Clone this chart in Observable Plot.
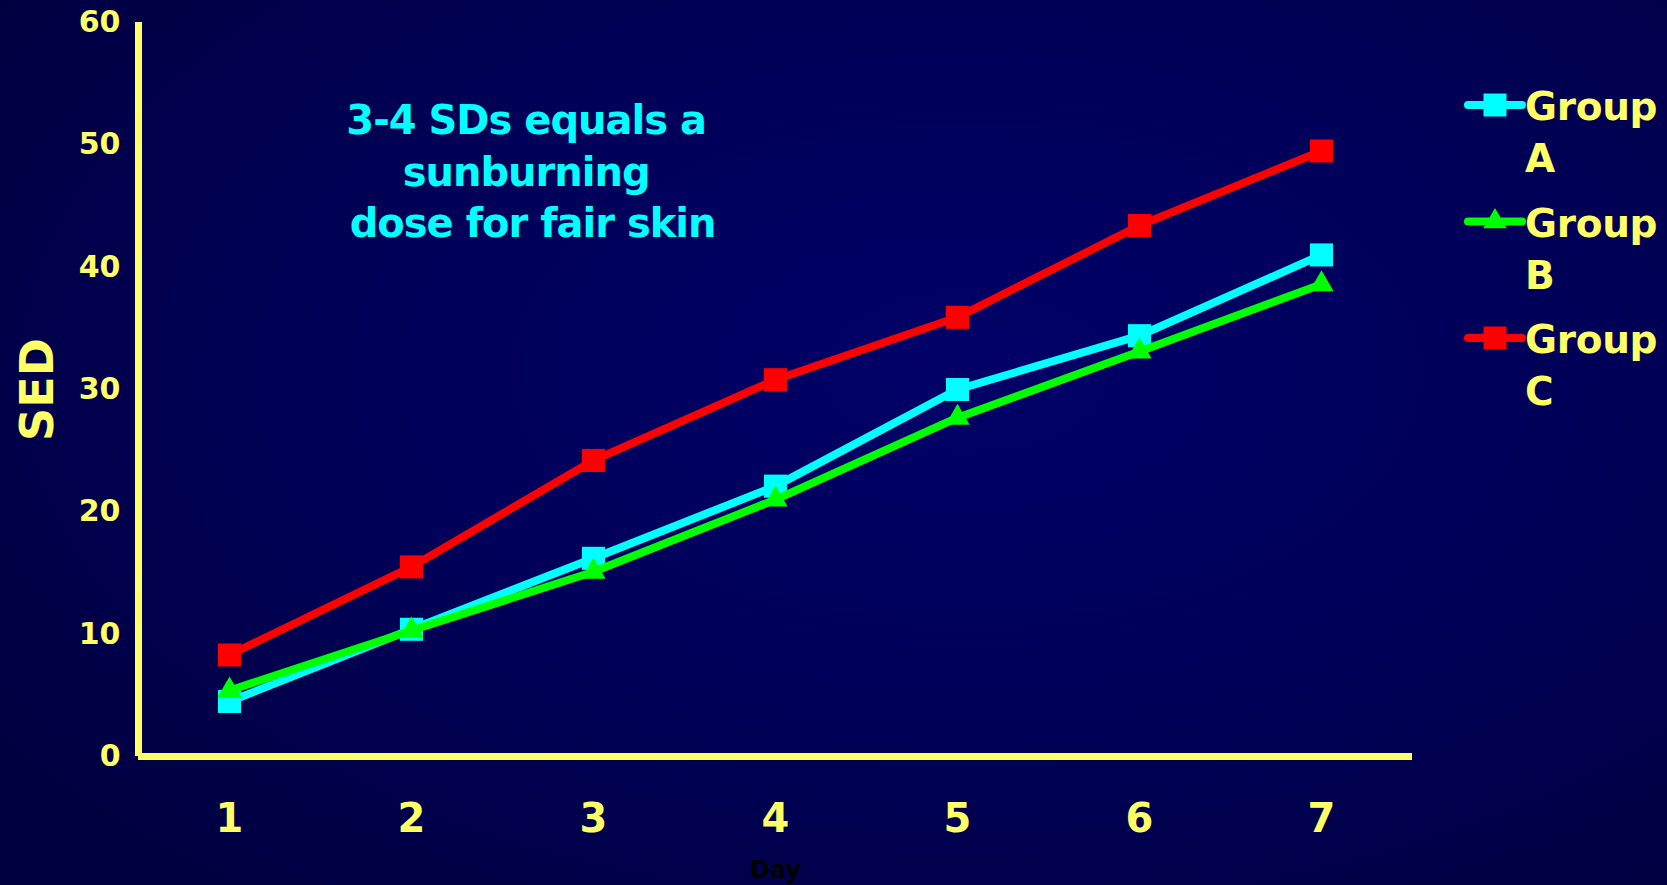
<!DOCTYPE html>
<html>
<head>
<meta charset="utf-8">
<script src="https://cdn.jsdelivr.net/npm/d3@7"></script>
<script src="https://cdn.jsdelivr.net/npm/@observablehq/plot@0.6"></script>
<style>
  html, body { margin: 0; padding: 0; overflow: hidden; }
  body {
    width: 1667px; height: 885px; position: relative;
    background: radial-gradient(ellipse 75% 80% at 58% 42%, #000068 0%, #00005a 45%, #00003e 100%);
    font-family: "DejaVu Sans", Verdana, sans-serif;
  }
  #chart { position: absolute; left: 0; top: 0; }
  #legend { position: absolute; left: 0; top: 0; pointer-events: none; }
  svg { white-space: pre; }
</style>
</head>
<body>
<div id="chart"></div>
<svg id="legend" width="1667" height="885"></svg>
<script>
// ---- data ----
const days = [1, 2, 3, 4, 5, 6, 7];
const groupA = [4.5, 10.4, 16.2, 22.1, 30.0, 34.4, 41.0];
const groupB = [5.4, 10.3, 15.1, 21.0, 27.7, 33.1, 38.6];
const groupC = [8.3, 15.5, 24.2, 30.8, 35.9, 43.4, 49.5];
const seriesNames = ["Group A", "Group B", "Group C"];
const legendLines = [["Group", "A"], ["Group", "B"], ["Group", "C"]];
const seriesColors = ["#00ffff", "#00ff00", "#ff0000"];
const seriesSymbols = ["square", "triangle", "square"];
const yTicks = [0, 10, 20, 30, 40, 50, 60];
const xLabel = "Day";
const yLabel = "SED";
const annotationText = "3-4 SDs equals a\nsunburning\n dose for fair skin";
const annotationDay = 2.63;
const annotationSED = 48.0;

const yellow = "#ffff66";
const seriesValues = [groupA, groupB, groupC];
const rows = seriesValues.flatMap((vals, i) =>
  vals.map((v, j) => ({ day: days[j], sed: v, group: seriesNames[i] })));

const seriesMarks = seriesNames.flatMap((name, i) => {
  const d = rows.filter(r => r.group === name);
  return [
    Plot.line(d, { x: "day", y: "sed", stroke: seriesColors[i], strokeWidth: 8, strokeLinejoin: "round" }),
    Plot.dot(d, { x: "day", y: "sed", symbol: seriesSymbols[i], fill: seriesColors[i], stroke: "none",
                  r: seriesSymbols[i] === "square" ? 13 : 9 })
  ];
});

const chart = Plot.plot({
  width: 1667,
  height: 885,
  marginLeft: 138,
  marginRight: 255,
  marginTop: 22,
  marginBottom: 129,
  style: { background: "transparent", fontFamily: "DejaVu Sans", overflow: "visible" },
  x: { domain: [0.5, 7.5] },
  y: { domain: [0, 60] },
  marks: [
    Plot.axisY({ ticks: yTicks, tickSize: 0, tickPadding: 18, fontSize: 30, fontWeight: "bold",
                 color: yellow, label: null, tickFormat: d => String(d) }),
    Plot.axisX({ ticks: days, tickSize: 0, tickPadding: 47, fontSize: 40, fontWeight: "bold",
                 color: yellow, label: null, tickFormat: d => String(d) }),
    Plot.ruleX([0.5], { stroke: yellow, strokeWidth: 7 }),
    Plot.ruleY([0], { stroke: yellow, strokeWidth: 7 }),
    ...seriesMarks,
    Plot.text([annotationText], { x: () => annotationDay, y: () => annotationSED, text: d => d,
      fill: "#00ffff", fontSize: 40, fontWeight: "bold", lineHeight: 1.29, textAnchor: "middle" }),
    Plot.text([yLabel], { frameAnchor: "left", textAnchor: "middle", lineAnchor: "middle", text: d => d,
      rotate: -90, dx: -100, fill: yellow, fontSize: 46, fontWeight: "bold" }),
    Plot.text([xLabel], { frameAnchor: "bottom", textAnchor: "middle", text: d => d, dy: 121,
      fill: "#000000", fontSize: 24, fontWeight: "bold" })
  ]
});
document.getElementById("chart").appendChild(chart);

// annotation letter spacing to mimic the narrower original face
d3.select(chart).selectAll("text").filter(function () {
  return this.textContent.indexOf("SDs") >= 0;
}).attr("letter-spacing", "-1");

// ---- legend ----
const lg = d3.select("#legend");
seriesNames.forEach((name, i) => {
  const cy = 105 + i * 116.5;
  const g = lg.append("g");
  g.append("line").attr("x1", 1468).attr("x2", 1522).attr("y1", cy).attr("y2", cy)
    .attr("stroke", seriesColors[i]).attr("stroke-width", 8).attr("stroke-linecap", "round");
  const sym = seriesSymbols[i] === "square" ? d3.symbolSquare : d3.symbolTriangle;
  const size = seriesSymbols[i] === "square" ? 23 * 23 : 240;
  g.append("path").attr("d", d3.symbol(sym, size)())
    .attr("transform", `translate(1495,${cy})`).attr("fill", seriesColors[i]);
  g.append("text").attr("x", 1525).attr("y", cy + 15).text(legendLines[i][0])
    .attr("fill", yellow).attr("font-size", 39).attr("font-weight", "bold")
    .attr("font-family", "DejaVu Sans").attr("letter-spacing", "-0.3");
  g.append("text").attr("x", 1525).attr("y", cy + 67).text(legendLines[i][1])
    .attr("fill", yellow).attr("font-size", 39).attr("font-weight", "bold")
    .attr("font-family", "DejaVu Sans");
});
</script>
</body>
</html>
